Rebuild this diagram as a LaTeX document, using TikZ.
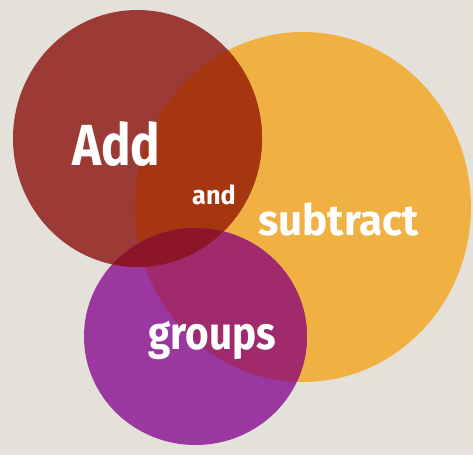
\documentclass[tikz,border=0pt]{standalone}
\usepackage{fontspec}
\setmainfont{Fira Sans}
\definecolor{paper}{HTML}{E4E1DB}
\definecolor{brick}{HTML}{9C3A36}
\definecolor{amber}{HTML}{F0B142}
\definecolor{plum}{HTML}{9A38A0}
\definecolor{rust}{HTML}{A6360F}
\definecolor{wine}{HTML}{8C1527}
\definecolor{berry}{HTML}{A02A6C}
\tikzset{
    word/.style={text=white, inner sep=0pt, anchor=base west, transform shape},
    redspot/.style={x radius=124.5, y radius=128.5},
    orangespot/.style={x radius=168, y radius=175},
    purplespot/.style={x radius=111.5, y radius=108.5}
}
\begin{document}
\begin{tikzpicture}[x=1pt, y=-1pt]
            \fill [paper] (0,0) rectangle (473,455);
            \useasboundingbox (0,0) rectangle (473,455);

            \coordinate (red) at (137.5,138.5);
            \coordinate (orange) at (303,207);
            \coordinate (purple) at (195.5,336.5);

            \fill [amber] (orange) ellipse [orangespot];
            \fill [brick] (red) ellipse [redspot];
            \fill [plum] (purple) ellipse [purplespot];

            \begin{scope}
                \clip (red) ellipse [redspot];
                \fill [rust] (orange) ellipse [orangespot];
            \end{scope}
            \begin{scope}
                \clip (purple) ellipse [purplespot];
                \fill [berry] (orange) ellipse [orangespot];
                \clip (red) ellipse [redspot];
                \fill [wine] (red) ellipse [redspot];
            \end{scope}

            \node (add) [word, xscale=0.85, font=\bfseries\fontsize{58}{58}\selectfont] at (72,165) {Add};
            \node (and) [word, xscale=0.97, font=\bfseries\fontsize{26}{26}\selectfont] at (192,204) {and};
            \node (subtract) [word, xscale=0.98, font=\bfseries\fontsize{43}{43}\selectfont] at (258,235) {subtract};
            \node (groups) [word, xscale=0.88, font=\bfseries\fontsize{46}{46}\selectfont] at (148,349) {groups};
\end{tikzpicture}
\end{document}
